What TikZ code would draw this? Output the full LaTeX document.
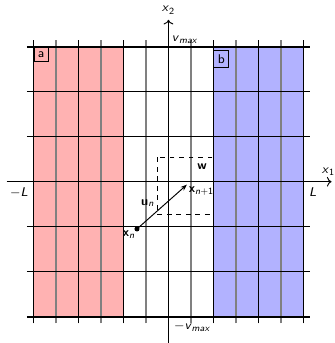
\documentclass[tikz,border=0pt]{standalone}
\usetikzlibrary{arrows.meta,positioning}
\newcommand{\ivar}[1]{\textit{#1}}
\newcommand{\bvec}[2]{\textbf{#1}\textsubscript{#2}}

\begin{document}
\begin{tikzpicture}[x=0.5cm, y=0.5cm, font=\footnotesize\sffamily,
    gridline/.style={line width=0.8pt},
    oddline/.style={line width=0.9pt, black!50},
    boundline/.style={line width=1.4pt},
    axis/.style={line width=0.6pt, ->},
    tag/.style={draw, semithick, inner sep=2.5pt, anchor=north west}]
  \useasboundingbox (-7.49,-7.17) rectangle (7.36,8.08);
  % Bandes colorees
  \fill[red!30] (-6,-6) rectangle (-2,6);
  \fill[blue!30] (2,-6) rectangle (6,6);
  % Grille verticale
  \foreach \x in {-6,-4,...,6}
    \draw[gridline] (\x,-6.3) -- (\x,6.3);
  \foreach \x in {-5,-3,...,5}
    \draw[oddline] (\x,-6.3) -- (\x,6.3);
  % Grille horizontale
  \foreach \y in {-4,-2,2,4}
    \draw[gridline] (-6.3,\y) -- (6.3,\y);
  \draw[boundline] (-6.3,6) -- (6.3,6);
  \draw[boundline] (-6.3,-6) -- (6.3,-6);
  % Axes
  \draw[axis] (-7.2,0) -- (7.25,0)
    node[above, xshift=-2pt] (xone) {\ivar{x}\textsubscript{1}};
  \draw[axis] (0,-7.2) -- (0,7.2)
    node[above] (xtwo) {\ivar{x}\textsubscript{2}};
  % Annotations
  \node[below left] (mL) at (-6,0) {$-$\ivar{L}};
  \node[below right] (pL) at (6,0) {\ivar{L}};
  \node[above right, inner sep=2pt] (vmax) at (0,6)
    {\ivar{v}\textsubscript{\ivar{max}}};
  \node[below right] (mvmax) at (0,-6)
    {$-$\ivar{v}\textsubscript{\ivar{max}}};
  \node[tag] (a) at (-6,6) {a};
  \node[tag] (b) at (2,5.85) {b};
  % Fenetre w
  \draw[dashed, semithick] (-0.5,1.08) rectangle (2,-1.44);
  \node[below left, inner sep=4pt] (w) at (2,1.08) {\textbf{w}};
  % Pas u_n
  \coordinate (xn) at (-1.4,-2.1);
  \coordinate (xnp) at (0.82,-0.13);
  \fill (xn) circle (1.6pt);
  \draw[semithick, -{Stealth[length=4pt]}] (xn) -- (xnp)
    node[pos=0.42, above left, inner sep=2pt] (un) {\bvec{u}{\ivar{n}}};
  \node[below left, inner sep=1pt] (lxn) at (xn) {\bvec{x}{\ivar{n}}};
  \node[below right, inner sep=1pt] (lxnp) at (xnp)
    {\bvec{x}{\ivar{n}+1}};
\end{tikzpicture}
\end{document}
